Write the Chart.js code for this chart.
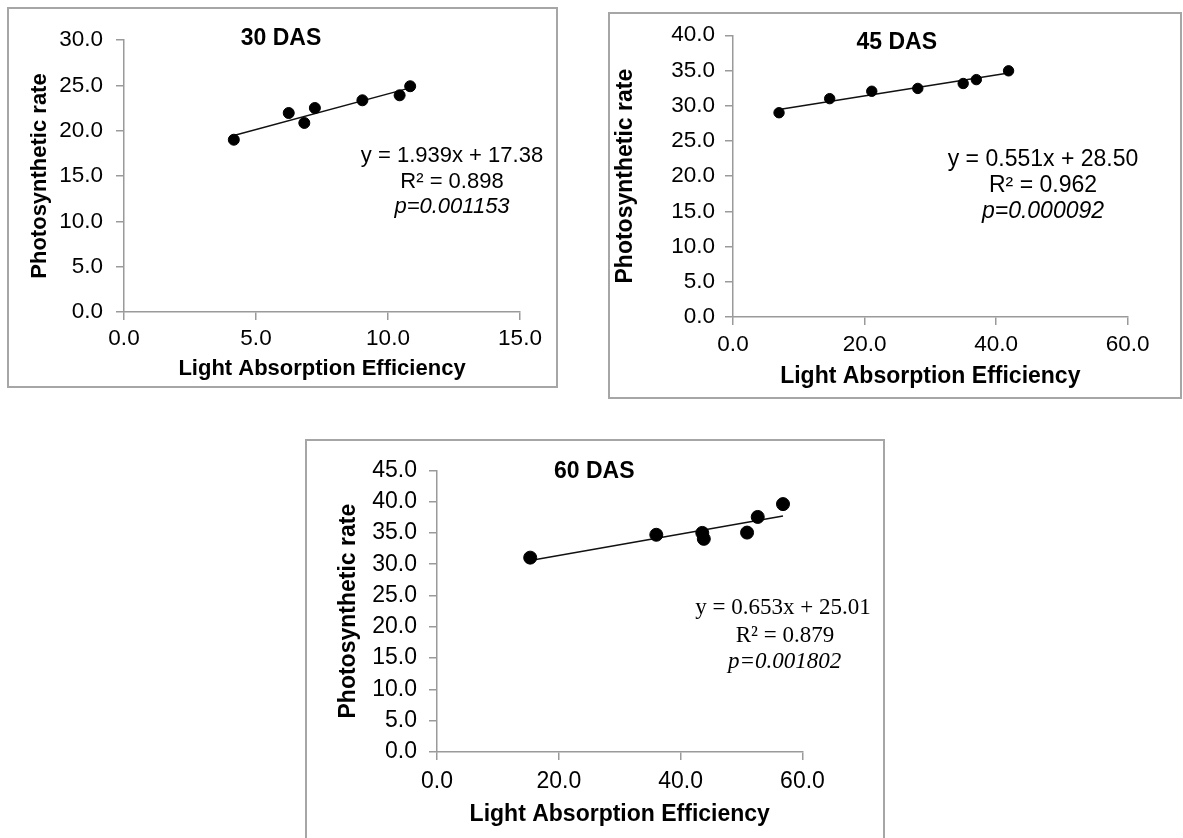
<!DOCTYPE html>
<html>
<head>
<meta charset="utf-8">
<title>Photosynthetic rate vs Light Absorption Efficiency</title>
<script src="https://cdn.jsdelivr.net/npm/chart.js@4.4.0/dist/chart.umd.min.js"></script>
<style>
    html, body { margin: 0; padding: 0; background: #fff; overflow: hidden; width: 1183px; height: 838px; }
    .panel { position: absolute; box-sizing: border-box; border: 2px solid #a6a6a6; background: #fff; }
    .panel canvas { display: block; }
</style>
</head>
<body>
<div class="panel" style="left:7px;top:7px;width:551px;height:381px;"><canvas id="chart30" width="547" height="377"></canvas></div>
<div class="panel" style="left:608px;top:12px;width:574px;height:387px;"><canvas id="chart45" width="570" height="383"></canvas></div>
<div class="panel" style="left:305px;top:439px;width:580px;height:410px;"><canvas id="chart60" width="576" height="406"></canvas></div>

<script>
// 30 DAS
const lae30 = [4.16, 6.24, 6.83, 7.23, 9.03, 10.44, 10.84];
const rate30 = [19.0, 21.95, 20.85, 22.5, 23.35, 23.9, 24.9];
const xTicks30 = [0, 5, 10, 15];
const yTicks30 = [0, 5, 10, 15, 20, 25, 30];

// 45 DAS
const lae45 = [7.0, 14.7, 21.1, 28.1, 35.0, 37.0, 41.9];
const rate45 = [29.0, 31.0, 32.05, 32.45, 33.15, 33.7, 34.95];
const xTicks45 = [0, 20, 40, 60];
const yTicks45 = [0, 5, 10, 15, 20, 25, 30, 35, 40];

// 60 DAS
const lae60 = [15.3, 36.0, 43.55, 43.8, 50.9, 52.65, 56.8];
const rate60 = [31.05, 34.7, 35.0, 34.05, 35.05, 37.55, 39.6];
const xTicks60 = [0, 20, 40, 60];
const yTicks60 = [0, 5, 10, 15, 20, 25, 30, 35, 40, 45];

const SANS = '"Liberation Sans", Arial, sans-serif';
const SERIF = '"Liberation Serif", "Times New Roman", serif';
const AXIS_GREY = '#9a9a9a';

// 最小二乘趋势线（两端点取数据的最小/最大x）
function trendLine(xs, ys) {
    const n = xs.length;
    const mx = xs.reduce((a, b) => a + b, 0) / n;
    const my = ys.reduce((a, b) => a + b, 0) / n;
    let sxy = 0, sxx = 0;
    for (let i = 0; i < n; i++) {
        sxy += (xs[i] - mx) * (ys[i] - my);
        sxx += (xs[i] - mx) * (xs[i] - mx);
    }
    const slope = sxy / sxx;
    const icpt = my - slope * mx;
    const x0 = Math.min(...xs), x1 = Math.max(...xs);
    return [{ x: x0, y: icpt + slope * x0 }, { x: x1, y: icpt + slope * x1 }];
}

// 在画布上写标题和回归方程
function panelText(items) {
    return {
        id: 'panelText',
        afterDraw(chart) {
            const ctx = chart.ctx;
            ctx.save();
            ctx.textAlign = 'center';
            ctx.textBaseline = 'middle';
            ctx.fillStyle = '#000';
            items.forEach(it => {
                ctx.font = it.font;
                ctx.fillText(it.text, it.x, it.y);
            });
            ctx.restore();
        }
    };
}

function makeChart(id, o) {
    const ctx = document.getElementById(id).getContext('2d');
    return new Chart(ctx, {
        type: 'scatter',
        data: {
            datasets: [
                {
                    data: o.xs.map((x, i) => ({ x: x, y: o.ys[i] })),
                    backgroundColor: '#000',
                    borderColor: '#000',
                    pointRadius: o.radius,
                    pointHoverRadius: o.radius
                },
                {
                    type: 'line',
                    data: trendLine(o.xs, o.ys),
                    borderColor: '#111',
                    borderWidth: 1.5,
                    pointRadius: 0,
                    fill: false
                }
            ]
        },
        options: {
            responsive: false,
            animation: false,
            layout: { padding: o.pad },
            plugins: { legend: { display: false }, tooltip: { enabled: false } },
            scales: {
                x: {
                    type: 'linear',
                    min: o.xTicks[0],
                    max: o.xTicks[o.xTicks.length - 1],
                    afterBuildTicks: s => { s.ticks = o.xTicks.map(v => ({ value: v })); },
                    afterFit: s => { s.height = o.xH; },
                    grid: { drawOnChartArea: false, drawTicks: true, tickLength: 8, color: AXIS_GREY, lineWidth: 1.5 },
                    border: { color: AXIS_GREY, width: 1.5 },
                    ticks: {
                        color: '#000',
                        font: { family: SANS, size: o.tickSize, lineHeight: 1 },
                        padding: o.xTickPad,
                        maxRotation: 0,
                        autoSkip: false,
                        callback: v => Number(v).toFixed(1)
                    },
                    title: {
                        display: true,
                        text: 'Light Absorption Efficiency',
                        color: '#000',
                        font: { family: SANS, size: o.titleSize, weight: 'bold', lineHeight: 1.2 },
                        padding: { top: 0, bottom: 0 }
                    }
                },
                y: {
                    type: 'linear',
                    min: o.yTicks[0],
                    max: o.yTicks[o.yTicks.length - 1],
                    afterBuildTicks: s => { s.ticks = o.yTicks.map(v => ({ value: v })); },
                    afterFit: s => { s.width = o.yW; },
                    grid: { drawOnChartArea: false, drawTicks: true, tickLength: 8, color: AXIS_GREY, lineWidth: 1.5 },
                    border: { color: AXIS_GREY, width: 1.5 },
                    ticks: {
                        color: '#000',
                        font: { family: SANS, size: o.tickSize, lineHeight: 1 },
                        padding: o.yTickPad,
                        autoSkip: false,
                        callback: v => Number(v).toFixed(1)
                    },
                    title: {
                        display: true,
                        text: 'Photosynthetic rate',
                        color: '#000',
                        font: { family: SANS, size: o.titleSize, weight: 'bold', lineHeight: 1.2 },
                        padding: { top: o.yTitlePad, bottom: 0 }
                    }
                }
            }
        },
        plugins: [panelText(o.texts)]
    });
}

document.addEventListener('DOMContentLoaded', () => {
    makeChart('chart30', {
        xs: lae30, ys: rate30, xTicks: xTicks30, yTicks: yTicks30, radius: 5.5,
        pad: { left: 8, top: 31, right: 36, bottom: 4 }, yW: 107, xH: 70,
        tickSize: 22.5, titleSize: 22, xTickPad: 7.25, yTickPad: 13, yTitlePad: 9.8,
        texts: [
            { text: '30 DAS', x: 272, y: 29.5, font: 'bold 23px ' + SANS },
            { text: 'y = 1.939x + 17.38', x: 443, y: 146.5, font: '22px ' + SANS },
            { text: 'R² = 0.898', x: 443, y: 172.8, font: '22px ' + SANS },
            { text: 'p=0.001153', x: 443, y: 197.8, font: 'italic 22px ' + SANS }
        ]
    });

    makeChart('chart45', {
        xs: lae45, ys: rate45, xTicks: xTicks45, yTicks: yTicks45, radius: 5.2,
        pad: { left: 0, top: 12.3, right: 52.4, bottom: 7 }, yW: 123, xH: 73,
        tickSize: 22.5, titleSize: 23, xTickPad: 8.25, yTickPad: 10, yTitlePad: 2.2,
        texts: [
            { text: '45 DAS', x: 286.7, y: 28.2, font: 'bold 23px ' + SANS },
            { text: 'y = 0.551x + 28.50', x: 433, y: 145.2, font: '23px ' + SANS },
            { text: 'R² = 0.962', x: 433, y: 171.8, font: '23px ' + SANS },
            { text: 'p=0.000092', x: 433, y: 197.2, font: 'italic 23px ' + SANS }
        ]
    });

    makeChart('chart60', {
        xs: lae60, ys: rate60, xTicks: xTicks60, yTicks: yTicks60, radius: 6.5,
        pad: { left: 20, top: 29.3, right: 80.5, bottom: 18.8 }, yW: 110, xH: 76.2,
        tickSize: 23, titleSize: 23, xTickPad: 10.2, yTickPad: 12, yTitlePad: 8.2,
        texts: [
            { text: '60 DAS', x: 287.3, y: 30.8, font: 'bold 23px ' + SANS },
            { text: 'y = 0.653x + 25.01', x: 476, y: 167.3, font: '23px ' + SERIF },
            { text: 'R² = 0.879', x: 478, y: 194.8, font: '23px ' + SERIF },
            { text: 'p=0.001802', x: 477.7, y: 220.7, font: 'italic 23px ' + SERIF }
        ]
    });
});
</script>
</body>
</html>
